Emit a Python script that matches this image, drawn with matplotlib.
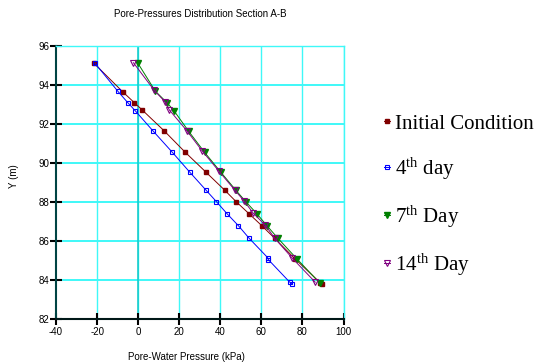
import matplotlib
matplotlib.use('Agg')
import matplotlib.pyplot as plt

plt.rcParams['font.family'] = ['Liberation Sans', 'DejaVu Sans']
plt.rcParams['axes.unicode_minus'] = False
plt.rcParams['mathtext.fontset'] = 'custom'
plt.rcParams['mathtext.rm'] = 'Liberation Serif'
plt.rcParams['mathtext.it'] = 'Liberation Serif:italic'

# pore-water pressure (kPa) vs elevation Y (m)
init_x = [-21.5, -7.6, -1.8, 2.1, 12.7, 22.9, 33.1, 42.2, 47.7, 54.0, 60.2, 66.4, 76.4, 88.6, 89.7]
init_y = [95.1, 93.65, 93.08, 92.7, 91.64, 90.55, 89.52, 88.6, 88.02, 87.4, 86.79, 86.15, 85.09, 83.87, 83.79]

day4_x = [-21.0, -9.9, -5.0, -1.5, 7.4, 16.6, 25.2, 33.1, 38.1, 43.3, 48.8, 54.0, 63.0, 63.4, 73.7, 75.0]
day4_y = [95.1, 93.67, 93.08, 92.68, 91.62, 90.55, 89.52, 88.6, 88.02, 87.4, 86.79, 86.15, 85.16, 85.05, 83.91, 83.79]

day7_x = [-0.1, 8.4, 14.1, 17.4, 24.6, 32.3, 40.3, 47.6, 52.4, 57.8, 62.7, 68.0, 77.3, 88.3]
day7_y = [95.1, 93.67, 93.08, 92.68, 91.62, 90.55, 89.52, 88.6, 88.02, 87.4, 86.79, 86.15, 85.09, 83.87]

day14_x = [-2.3, 7.8, 13.1, 15.2, 23.7, 31.3, 39.4, 46.9, 51.6, 56.1, 61.8, 66.4, 75.1, 86.2]
day14_y = [95.13, 93.72, 93.13, 92.71, 91.65, 90.6, 89.57, 88.63, 88.05, 87.42, 86.83, 86.16, 85.12, 83.9]

labels = ['Initial Condition', r'4$^{\mathrm{th}}$ day', r'7$^{\mathrm{th}}$ Day', r'14$^{\mathrm{th}}$ Day']

fig = plt.figure(figsize=(5.36, 3.63), dpi=100)
ax = fig.add_axes([0.1045, 0.1204, 0.5365, 0.7536])

ax.set_xlim(-40, 100)
ax.set_ylim(82, 96)
ax.set_xticks(range(-40, 101, 20))
ax.set_yticks(range(82, 97, 2))

for v in range(-20, 101, 20):
    ax.axvline(v, color='#3ff8f8', lw=1.0, zorder=0)
for v in range(84, 97, 2):
    ax.axhline(v, color='#3ff8f8', lw=1.4, zorder=0)
ax.axvline(0, color='#10c8c8', lw=1.1, zorder=0)

ms = 3.5
h1, = ax.plot(init_x, init_y, color='#800000', lw=0.7, marker='s', ms=ms,
              mfc='#800000', mec='#800000', label=labels[0])
h2, = ax.plot(day4_x, day4_y, color='#0000ff', lw=0.7, marker='s', ms=ms,
              mfc='none', mec='#0000ff', mew=0.8, label=labels[1])
h3, = ax.plot(day7_x, day7_y, color='#008000', lw=0.7, marker='v', ms=ms + 0.6,
              mfc='#008000', mec='#008000', label=labels[2])
h4, = ax.plot(day14_x, day14_y, color='#800080', lw=0.7, marker='v', ms=ms + 0.6,
              mfc='none', mec='#800080', mew=0.8, label=labels[3])

for s in ['top', 'right']:
    ax.spines[s].set_color('#3ff8f8')
    ax.spines[s].set_linewidth(1.0)
ax.spines['left'].set_color('#004444')
ax.spines['left'].set_linewidth(1.5)
ax.spines['bottom'].set_color('#001818')
ax.spines['bottom'].set_linewidth(1.5)

ax.tick_params(direction='inout', length=8.5, width=1.5, color='black',
               labelsize=7, pad=1)
ax.tick_params(axis='y', pad=0.5)

ax.set_title('Pore-Pressures Distribution Section A-B', fontsize=7, pad=21)
ax.set_xlabel('Pore-Water Pressure (kPa)', fontsize=7)
ax.xaxis.set_label_coords(0.452, -0.118)
ax.set_ylabel('Y (m)', fontsize=7)
ax.yaxis.set_label_coords(-0.127, 0.524)

fig.legend(handles=[h1, h2, h3, h4], loc='upper left',
           bbox_to_anchor=(0.716, 0.686), frameon=False,
           prop={'family': 'Liberation Serif', 'size': 15},
           handlelength=0.3, handletextpad=0.25, labelspacing=1.05,
           borderpad=0, borderaxespad=0, markerscale=0.9)

fig.savefig('out.png', dpi=100)
